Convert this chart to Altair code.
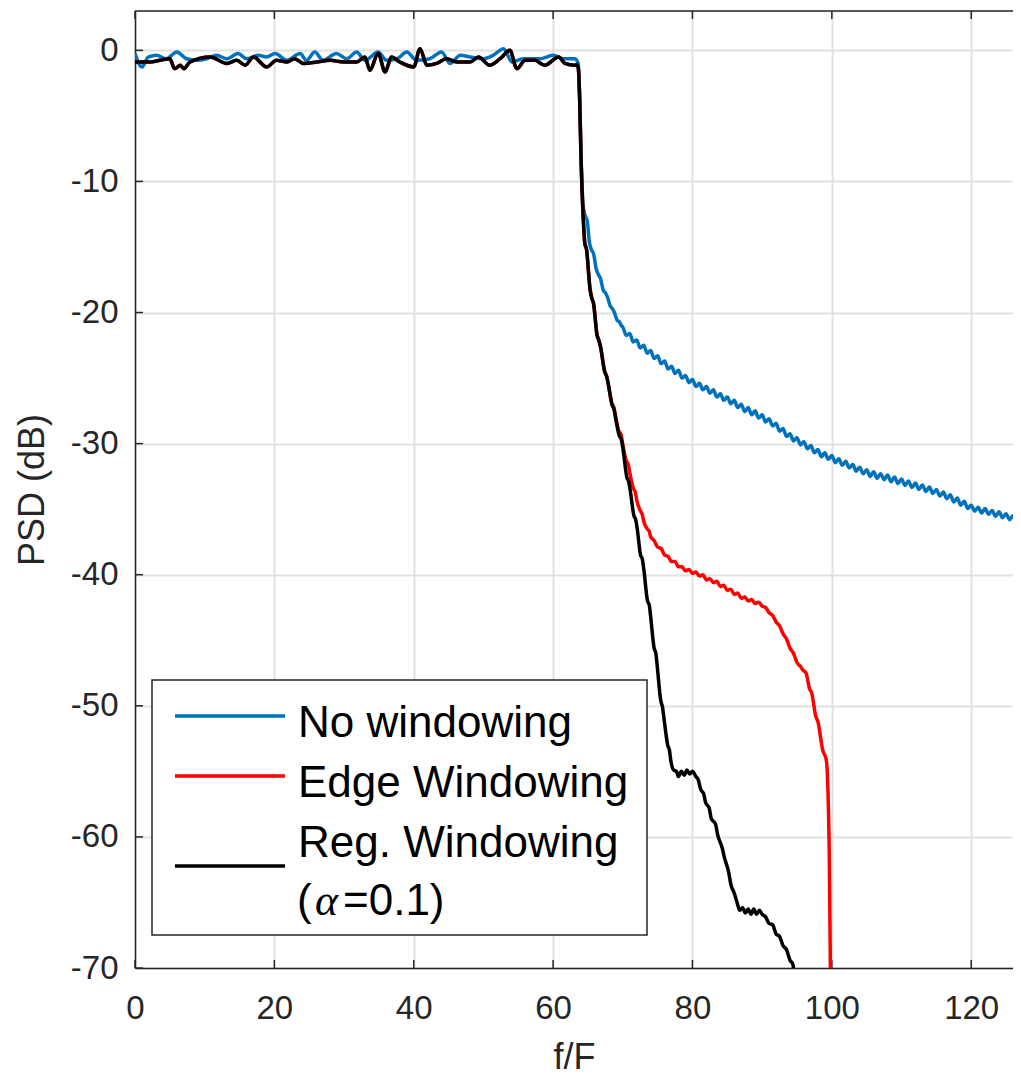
import altair as alt
import pandas as pd

# ---------------- data ----------------
series_names = ["No windowing", "Edge Windowing", "Reg. Windowing"]
series_colors = ["#0072BD", "#FF0000", "#000000"]
alpha_parts = ["(", "\u03b1", "=0.1)"]   # second line of the black legend entry

x_ticks = [0, 20, 40, 60, 80, 100, 120]
y_ticks = [-70, -60, -50, -40, -30, -20, -10, 0]

# passband + transition shared by "Edge" and "Reg." windowing
common_f = [0, 2.15, 3.6, 5.0, 5.7, 6.5, 7.0, 7.9, 10.8, 13.2,
            14.6, 15.8, 17.0, 18.9, 20.3, 21.8, 22.9, 24.2, 26.1, 28.0,
            29.9, 31.8, 33.0, 33.7, 34.9, 35.9, 36.8, 38.0, 40.0, 40.9,
            41.9, 43.3, 44.7, 46.2, 48.1, 49.3, 50.9, 52.4, 53.8, 54.8,
            56.0, 57.4, 58.8, 60.8, 61.7, 63.1, 63.4, 63.6, 63.8, 64.0,
            64.3, 64.55, 64.8, 65.3, 65.55, 65.8, 66.3, 66.55, 66.8, 67.4,
            67.7, 67.9]
common_db = [-0.89, -0.89, -0.76, -0.64, -1.4, -1.14, -1.4, -0.89, -0.51, -1.0,
             -0.76, -1.14, -0.51, -1.27, -0.76, -0.89, -0.64, -1.0, -0.89, -0.76,
             -0.89, -0.89, -0.51, -1.52, -0.25, -1.65, -0.51, -0.89, -1.27, 0.13,
             -1.14, -1.0, -0.64, -0.89, -0.89, -0.51, -1.14, -0.64, 0.0, -1.4,
             -0.76, -0.76, -1.14, -0.51, -1.0, -1.14, -1.1, -1.3, -3.5, -8.0,
             -12.5, -14.7, -15.2, -18.2, -18.9, -19.3, -21.7, -22.1, -22.6, -24.5,
             -24.9, -25.4]

blue_head_f = [0, 1.0, 1.9, 3.1, 4.5, 6.0, 7.4, 8.9, 10.3, 11.7,
               13.2, 14.8, 16.0, 17.7, 18.9, 20.1, 21.8, 23.7, 24.6, 25.8,
               27.0, 28.9, 30.4, 31.8, 33.0, 34.9, 36.1, 37.6, 39.0, 40.4,
               42.3, 44.0, 45.2, 46.7, 48.1, 50.0, 51.4, 52.9, 54.1, 55.7,
               58.1, 60.0, 61.5, 63.1, 63.6, 63.8, 64.0, 64.3, 64.6, 64.9,
               65.2, 65.5, 65.8, 66.2, 66.5, 66.8, 67.2, 67.5, 67.8, 68.2,
               68.5, 68.8, 69.2, 69.5, 69.8]
blue_head_db = [-0.25, -1.27, -0.51, -0.38, -0.64, -0.13, -0.64, -0.76, -0.64, -0.38,
                -0.64, -0.25, -0.64, -0.38, -0.51, -0.25, -0.76, -0.25, -0.76, -0.13,
                -0.76, -0.25, -0.64, -0.13, -0.76, -0.13, -0.76, -0.64, -0.13, -0.76,
                -0.64, -0.13, -1.0, -0.38, -0.51, -0.64, -0.38, 0.13, -0.89, -0.64,
                -0.64, -0.38, -0.64, -0.64, -1.0, -3.3, -7.8, -11.8, -12.6, -13.0,
                -14.6, -15.2, -15.5, -16.7, -17.1, -17.4, -18.3, -18.5, -18.8, -19.5,
                -19.7, -20.0, -20.6, -20.7, -21.0]

blue_tail_f = [70.0, 70.5, 71.0, 71.5, 72.0, 72.5, 73.0, 73.5, 74.0, 74.5,
               75.0, 75.5, 76.0, 76.5, 77.0, 77.5, 78.0, 78.5, 79.0, 79.5,
               80.0, 80.5, 81.0, 81.5, 82.0, 82.5, 83.0, 83.5, 84.0, 84.5,
               85.0, 85.5, 86.0, 86.5, 87.0, 87.5, 88.0, 88.5, 89.0, 89.5,
               90.0, 90.5, 91.0, 91.5, 92.0, 92.5, 93.0, 93.5, 94.0, 94.5,
               95.0, 95.5, 96.0, 96.5, 97.0, 97.5, 98.0, 98.5, 99.0, 99.5,
               100.0, 100.5, 101.0, 101.5, 102.0, 102.5, 103.0, 103.5, 104.0, 104.5,
               105.0, 105.5, 106.0, 106.5, 107.0, 107.5, 108.0, 108.5, 109.0, 109.5,
               110.0, 110.5, 111.0, 111.5, 112.0, 112.5, 113.0, 113.5, 114.0, 114.5,
               115.0, 115.5, 116.0, 116.5, 117.0, 117.5, 118.0, 118.5, 119.0, 119.5,
               120.0, 120.5, 121.0, 121.5, 122.0, 122.5, 123.0, 123.5, 124.0, 124.5,
               125.0, 125.5, 126.0, 126.5, 127.0]
blue_tail_db = [-21.1, -21.75, -21.6, -22.25, -22.1, -22.7, -22.5, -23.1, -22.9, -23.5,
                -23.3, -23.9, -23.7, -24.3, -24.1, -24.65, -24.4, -25.0, -24.8, -25.35,
                -25.1, -25.65, -25.4, -25.9, -25.65, -26.15, -25.9, -26.45, -26.2, -26.7,
                -26.45, -26.95, -26.7, -27.25, -27.0, -27.55, -27.25, -27.8, -27.5, -28.05,
                -27.8, -28.35, -28.1, -28.65, -28.45, -29.05, -28.85, -29.45, -29.25, -29.8,
                -29.55, -30.1, -29.85, -30.4, -30.15, -30.7, -30.45, -31.0, -30.7, -31.2,
                -30.9, -31.45, -31.15, -31.65, -31.35, -31.85, -31.6, -32.1, -31.8, -32.3,
                -32.0, -32.5, -32.15, -32.65, -32.3, -32.75, -32.4, -32.9, -32.55, -33.05,
                -32.7, -33.2, -32.85, -33.35, -33.0, -33.5, -33.15, -33.65, -33.3, -33.8,
                -33.5, -34.0, -33.7, -34.2, -33.9, -34.45, -34.15, -34.7, -34.4, -34.95,
                -34.7, -35.15, -34.85, -35.3, -34.95, -35.4, -35.1, -35.55, -35.2, -35.65,
                -35.35, -35.8, -35.5, -36.0, -35.7]

red_tail_f = [68.4, 68.7, 68.9, 69.4, 69.75, 69.95, 70.5, 70.8, 71.0, 71.5,
              71.8, 72.0, 72.5, 72.8, 73.0, 73.5, 73.8, 74.0, 74.5, 75.0,
              75.5, 76.0, 76.5, 77.0, 77.5, 78.0, 78.5, 79.0, 79.5, 80.0,
              80.5, 81.0, 81.5, 82.0, 82.5, 83.0, 83.5, 84.0, 84.5, 85.0,
              85.5, 86.0, 86.5, 87.0, 87.5, 88.0, 88.5, 89.0, 89.5, 90.0,
              90.5, 91.0, 91.5, 92.0, 92.5, 93.0, 93.5, 94.0, 94.5, 95.0,
              95.5, 95.9, 96.3, 96.8, 97.1, 97.7, 98.0, 98.7, 99.2, 99.45,
              99.65, 99.8, 99.95]
red_tail_db = [-26.9, -27.2, -27.7, -29.0, -29.3, -29.9, -31.3, -31.6, -32.2, -33.4,
               -33.7, -34.3, -35.1, -35.4, -35.9, -36.5, -36.7, -37.1, -37.4, -37.9,
               -38.0, -38.5, -38.6, -39.0, -39.0, -39.4, -39.4, -39.7, -39.6, -39.9,
               -39.8, -40.1, -40.0, -40.4, -40.3, -40.6, -40.5, -40.9, -40.8, -41.2,
               -41.1, -41.5, -41.4, -41.8, -41.7, -42.0, -41.9, -42.2, -42.1, -42.4,
               -42.5, -42.9, -43.1, -43.6, -43.9, -44.5, -44.9, -45.6, -46.0, -46.7,
               -47.0, -47.3, -47.5, -48.7, -49.0, -50.8, -51.2, -53.4, -54.1, -56.5,
               -62.0, -70.5, -80.0]

black_tail_f = [68.5, 68.75, 68.95, 69.5, 69.8, 70.0, 70.6, 70.85, 71.05, 71.6,
                71.85, 72.05, 72.55, 72.8, 73.0, 73.55, 73.8, 74.0, 74.5, 74.75,
                74.95, 75.45, 75.7, 75.9, 76.45, 76.7, 76.9, 77.3, 77.7, 78.0,
                78.4, 78.8, 79.2, 79.6, 80.0, 80.5, 80.8, 81.2, 81.6, 81.9,
                82.4, 82.7, 83.3, 83.6, 84.3, 84.6, 85.2, 85.5, 86.0, 86.4,
                86.8, 87.2, 87.6, 88.0, 88.4, 88.8, 89.2, 89.6, 90.0, 90.5,
                91.0, 91.5, 92.0, 92.5, 93.0, 93.5, 94.0, 94.4, 94.6, 95.0]
black_tail_db = [-27.1, -27.4, -28.0, -29.4, -29.7, -30.3, -32.6, -32.9, -33.5, -35.5,
                 -35.8, -36.4, -38.5, -38.8, -39.5, -42.0, -42.3, -43.2, -45.6, -46.0,
                 -47.0, -49.6, -50.1, -50.9, -53.0, -53.4, -54.2, -54.9, -55.0, -55.4,
                 -55.0, -55.3, -54.9, -55.2, -55.0, -55.4, -55.6, -56.4, -56.7, -57.4,
                 -57.8, -58.6, -59.0, -59.8, -60.9, -61.6, -62.7, -63.6, -64.3, -65.0,
                 -65.6, -65.4, -65.8, -65.5, -65.9, -65.5, -65.9, -65.6, -65.9, -66.1,
                 -66.6, -66.7, -67.4, -67.6, -68.3, -68.6, -69.4, -69.7, -70.5, -73.0]

# ---------------- tables ----------------
X_MIN, X_MAX = 0, 126
Y_MIN, Y_MAX = -70, 3
TICK_DB = 0.61   # ~8 px inward tick length (y units)
TICK_F = 1.15    # ~8 px inward tick length (x units)

def make(series, fs, dbs):
    return pd.DataFrame({"f": fs, "db": dbs, "series": series,
                         "i": list(range(len(fs)))})

df = pd.concat([
    make(series_names[0], blue_head_f + blue_tail_f, blue_head_db + blue_tail_db),
    make(series_names[1], common_f + red_tail_f, common_db + red_tail_db),
    make(series_names[2], common_f + black_tail_f, common_db + black_tail_db),
], ignore_index=True)

ticks = pd.DataFrame(
    [{"f": t, "f2": t, "db": Y_MIN, "db2": Y_MIN + TICK_DB} for t in x_ticks]
    + [{"f": t, "f2": t, "db": Y_MAX, "db2": Y_MAX - TICK_DB} for t in x_ticks]
    + [{"f": X_MIN, "f2": X_MIN + TICK_F, "db": t, "db2": t} for t in y_ticks]
    + [{"f": X_MIN, "f2": X_MAX, "db": Y_MAX, "db2": Y_MAX}]
)

FONT = "Liberation Sans"
AX = "#262626"
TICK_FS = 33
TITLE_FS = 36

xscale = alt.Scale(domain=[X_MIN, X_MAX], nice=False, zero=False)
yscale = alt.Scale(domain=[Y_MIN, Y_MAX], nice=False, zero=False)

x_enc = alt.X("f:Q", scale=xscale, axis=alt.Axis(
    values=x_ticks, title="f/F", labelFontSize=TICK_FS, titleFontSize=TITLE_FS,
    titleFontWeight="normal", labelFont=FONT, titleFont=FONT,
    labelColor=AX, titleColor=AX, tickSize=0, labelPadding=24, titlePadding=15,
    grid=True, gridColor="#e1e1e1", gridWidth=2,
    domainColor=AX, domainWidth=1.5, labelFlush=False,
    labelExpr="'' + datum.value"))
y_enc = alt.Y("db:Q", scale=yscale, axis=alt.Axis(
    values=y_ticks, title="PSD (dB)", labelFontSize=TICK_FS, titleFontSize=TITLE_FS,
    titleFontWeight="normal", labelFont=FONT, titleFont=FONT,
    labelColor=AX, titleColor=AX, tickSize=0, labelPadding=17, titlePadding=19,
    grid=True, gridColor="#e1e1e1", gridWidth=2,
    domainColor=AX, domainWidth=1.5, labelFlush=False,
    labelExpr="'' + datum.value"))

color_enc = alt.Color("series:N",
                      scale=alt.Scale(domain=series_names, range=series_colors),
                      legend=None)

tick_layer = alt.Chart(ticks).mark_rule(color=AX, strokeWidth=1.5).encode(
    x=x_enc, x2="f2:Q", y=y_enc, y2="db2:Q")

line_layers = [
    alt.Chart(df).transform_filter(alt.datum.series == name)
    .mark_line(strokeWidth=3.5, clip=True, interpolate="monotone")
    .encode(x=x_enc, y=y_enc, color=color_enc, order="i:Q")
    for name in series_names
]

# ---------------- legend (drawn box, pixel layout inside the plot area) ----------------
one = pd.DataFrame({"k": [0]})
LEG_FS = 44
leg_box = alt.Chart(one).mark_rect(fill="white", stroke=AX, strokeWidth=1.5).encode(
    x=alt.value(17), x2=alt.value(512), y=alt.value(669), y2=alt.value(924))

swatch_y = [705, 765, 855]
text_y = [726, 786, 846]
leg_items = []
for name, col, sy, ty in zip(series_names, series_colors, swatch_y, text_y):
    leg_items.append(alt.Chart(one).mark_rule(color=col, strokeWidth=3.5).encode(
        x=alt.value(40), x2=alt.value(150), y=alt.value(sy)))
    leg_items.append(alt.Chart(one).mark_text(
        align="left", baseline="alphabetic", fontSize=LEG_FS, font=FONT,
        color="black", text=name).encode(x=alt.value(163), y=alt.value(ty)))

alpha_x = [162, 180, 208]
alpha_font = [FONT, "Liberation Serif", FONT]
alpha_style = ["normal", "italic", "normal"]
for part, ax_, fnt, sty in zip(alpha_parts, alpha_x, alpha_font, alpha_style):
    leg_items.append(alt.Chart(one).mark_text(
        align="left", baseline="alphabetic", fontSize=LEG_FS, font=fnt,
        fontStyle=sty, color="black", text=part).encode(
        x=alt.value(ax_), y=alt.value(904)))

chart = alt.layer(tick_layer, *line_layers, leg_box, *leg_items).properties(
    width=878, height=957,
    autosize=alt.AutoSizeParams(type="none"),
    padding={"left": 127, "top": 3, "right": 0, "bottom": 114},
).configure_view(stroke=None).configure(background="white")

chart.save("out.html", embed_options={"renderer": "svg", "actions": False})
